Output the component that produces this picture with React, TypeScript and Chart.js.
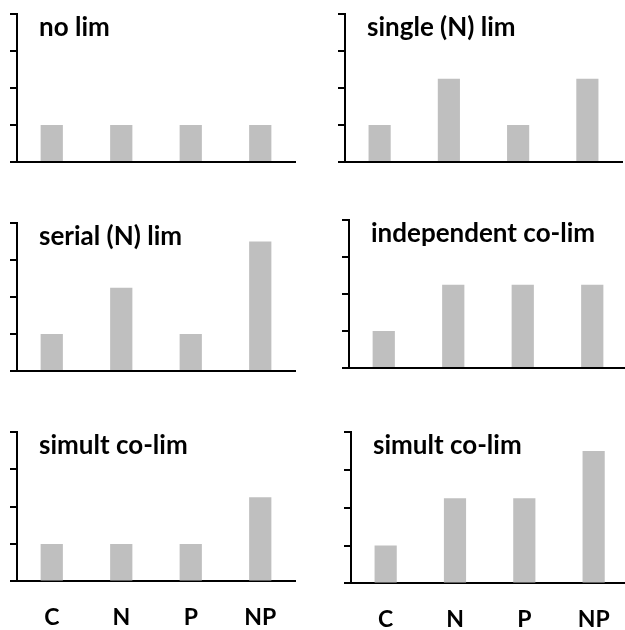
import React, { useEffect, useRef } from "react";
import { Chart, registerables } from "chart.js";

Chart.register(...registerables);

const categories = ["C", "N", "P", "NP"];
const yTickValues = [0, 1, 2, 3, 4];

const noLim = [1, 1, 1, 1];
const singleN = [1, 2.25, 1, 2.25];
const serialN = [1, 2.25, 1, 3.5];
const independentCo = [1, 2.25, 2.25, 2.25];
const simultCoA = [1, 1, 1, 2.25];
const simultCoB = [1, 2.25, 2.25, 3.5];

const titles = [
  "no lim",
  "single (N) lim",
  "serial (N) lim",
  "independent co-lim",
  "simult co-lim",
  "simult co-lim",
];
const seriesList = [noLim, singleN, serialN, independentCo, simultCoA, simultCoB];

type Panel = {
  left: number;
  top: number;
  width: number;
  height: number;
  pad: { left: number; top: number; right: number; bottom: number };
  showLabels: boolean;
};

const panels: Panel[] = [
  { left: 0, top: 0, width: 312, height: 190, pad: { left: 10, top: 14, right: 17, bottom: 28 }, showLabels: false },
  { left: 312, top: 0, width: 313, height: 190, pad: { left: 26, top: 14, right: 3, bottom: 28 }, showLabels: false },
  { left: 0, top: 200, width: 312, height: 190, pad: { left: 10, top: 23, right: 17, bottom: 19 }, showLabels: false },
  { left: 312, top: 200, width: 318, height: 190, pad: { left: 30, top: 20, right: 3, bottom: 22 }, showLabels: false },
  { left: 0, top: 410, width: 312, height: 243, pad: { left: 10, top: 22, right: 17, bottom: 0 }, showLabels: true },
  { left: 312, top: 410, width: 320, height: 245, pad: { left: 32, top: 22, right: 3, bottom: 0 }, showLabels: true },
];

const panelTitlePlugin = {
  id: "panelTitle",
  afterDraw(chart: any, _args: any, opts: any) {
    const { ctx, chartArea } = chart;
    ctx.save();
    ctx.font = "bold 26px Lato";
    ctx.fillStyle = "#000";
    ctx.textAlign = "left";
    ctx.textBaseline = "alphabetic";
    ctx.fillText(opts.text || "", chartArea.left + 22, chartArea.top + 22);
    ctx.restore();
  },
};

function MiniChart({ panel, title, values }: { panel: Panel; title: string; values: number[] }) {
  const ref = useRef<HTMLCanvasElement | null>(null);
  useEffect(() => {
    if (!ref.current) return;
    const chart = new Chart(ref.current, {
      type: "bar",
      data: {
        labels: categories,
        datasets: [
          {
            data: values,
            backgroundColor: "#BFBFBF",
            borderWidth: 0,
            categoryPercentage: 1,
            barPercentage: 0.32,
          },
        ],
      },
      options: {
        animation: false,
        responsive: false,
        maintainAspectRatio: false,
        devicePixelRatio: 1,
        layout: { padding: panel.pad },
        plugins: {
          legend: { display: false },
          tooltip: { enabled: false },
          title: { display: false },
          panelTitle: { text: title },
        } as any,
        scales: {
          x: {
            grid: { display: false, drawTicks: false },
            border: { display: true, color: "#000", width: 2 },
            ticks: {
              display: panel.showLabels,
              padding: 22,
              color: "#000",
              font: { family: "Lato", weight: "bold", size: 23 },
            },
          },
          y: {
            min: 0,
            max: 4,
            afterBuildTicks: (scale: any) => {
              scale.ticks = yTickValues.map((v) => ({ value: v }));
            },
            grid: {
              display: true,
              drawOnChartArea: false,
              drawTicks: true,
              tickLength: 7,
              color: "#000",
              lineWidth: 2,
            },
            border: { display: true, color: "#000", width: 2 },
            ticks: { display: false },
          },
        },
      },
      plugins: [panelTitlePlugin],
    });
    let alive = true;
    (document as any).fonts?.ready?.then(() => {
      if (alive) chart.update();
    });
    return () => {
      alive = false;
      chart.destroy();
    };
  }, [panel, title, values]);
  return (
    <canvas
      ref={ref}
      width={panel.width}
      height={panel.height}
      style={{
        position: "absolute",
        left: panel.left,
        top: panel.top,
        width: panel.width,
        height: panel.height,
      }}
    />
  );
}

export default function App() {
  return (
    <div
      style={{
        position: "absolute",
        left: 0,
        top: 0,
        width: 625,
        height: 630,
        overflow: "hidden",
        background: "#fff",
      }}
    >
      {panels.map((p, i) => (
        <MiniChart key={i} panel={p} title={titles[i]} values={seriesList[i]} />
      ))}
    </div>
  );
}
